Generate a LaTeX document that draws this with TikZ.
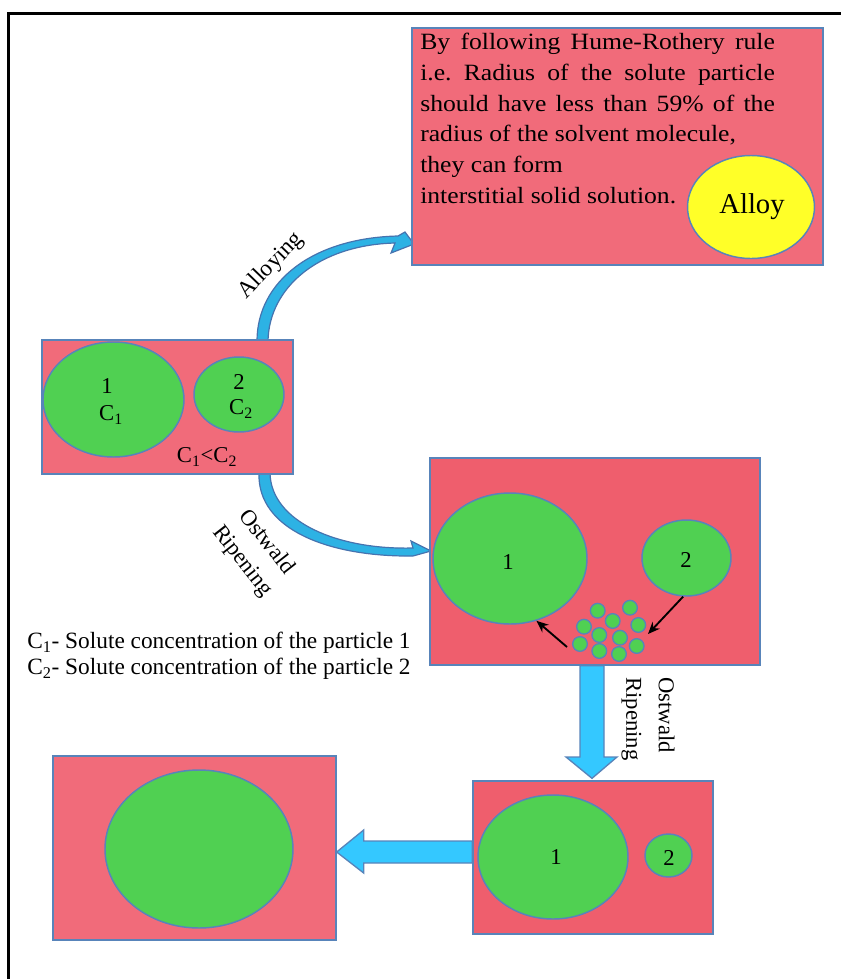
\documentclass[tikz,border=0pt]{standalone}
\usepackage{fontspec}
\setmainfont{Liberation Serif}
\newfontfamily\widefont[FakeStretch=1.1]{Liberation Serif}
\usetikzlibrary{shapes.geometric,arrows.meta,calc}
\pgfdeclarelayer{background}
\pgfsetlayers{background,main}
\definecolor{pinkA}{RGB}{241,107,122}
\definecolor{pinkB}{RGB}{239,94,109}
\definecolor{gfill}{RGB}{80,208,82}
\definecolor{edge}{RGB}{88,132,186}
\definecolor{edgeD}{RGB}{70,115,175}
\definecolor{yfill}{RGB}{255,255,40}
\definecolor{cyanA}{RGB}{45,178,228}
\definecolor{cyanB}{RGB}{52,200,255}
\frenchspacing
\begin{document}
\begin{tikzpicture}[x=0.75pt,y=-0.75pt,
  pbox/.style={rectangle,draw=edge,line width=1pt,fill=pinkA,inner sep=0},
  gell/.style={ellipse,draw=edge,line width=1.1pt,fill=gfill,inner sep=0},
  dot/.style={circle,draw=edge,line width=1pt,fill=gfill,inner sep=0,minimum size=11pt},
  lbl/.style={font=\fontsize{17}{23}\selectfont,inner sep=0},
  barrow/.style={draw=edge,line width=1pt,fill=cyanB},
  carrow/.style={draw=edgeD,line width=0.9pt,fill=cyanA},
  blk/.style={draw=black,line width=1.4pt,-{Stealth[length=9pt,width=7.5pt]}}]
\useasboundingbox (0,0) rectangle (840,979);

% frame
\draw[line width=2.25pt] (8,985) -- (8,13) -- (850,13);

% boxes
\node[pbox,minimum width=308.25pt,minimum height=177.75pt] (T) at (617.5,146.5) {};
\node[pbox,minimum width=188.25pt,minimum height=100.5pt] (B1) at (167.5,407) {};
\node[pbox,fill=pinkB,minimum width=247.5pt,minimum height=155.25pt] (B2) at (595,561.5) {};
\node[pbox,fill=pinkB,minimum width=180pt,minimum height=114.75pt] (B3) at (593,857.5) {};
\node[pbox,minimum width=212.25pt,minimum height=138pt] (B4) at (194.5,848) {};

% top box text
\node[anchor=north west,inner sep=0,align=left,font=\widefont\fontsize{17.5}{23}\selectfont] (ttext) at (420,33)
 {\makebox[266pt][s]{By following Hume-Rothery rule}\\
  \makebox[266pt][s]{i.e. Radius of the solute particle}\\
  \makebox[266pt][s]{should have less than 59\% of the}\\
  radius of the solvent molecule,\\
  they can form\\
  interstitial solid solution.};
\node[ellipse,draw=edge,line width=1.1pt,fill=yfill,inner sep=0,minimum width=95.25pt,minimum height=77.25pt] (AL) at (751,207) {};
\node[font=\fontsize{21.5}{25}\selectfont,inner sep=0] (ALt) at (752,207) {Alloy};

% box 1
\node[gell,minimum width=105.75pt,minimum height=86.25pt] (E11) at (113.5,399.5) {};
\node[gell,minimum width=67.5pt,minimum height=56.25pt] (E12) at (239,394.5) {};
\node[lbl] (l11) at (107,386) {1};
\node[lbl] (l11c) at (111,415) {C\textsubscript{1}};
\node[lbl] (l12) at (239,382) {2};
\node[lbl] (l12c) at (241,409) {C\textsubscript{2}};
\node[lbl] (cmp) at (207,457) {C\textsubscript{1}<C\textsubscript{2}};

% box 2
\node[gell,minimum width=115.5pt,minimum height=98.25pt] (E21) at (510,558.5) {};
\node[gell,minimum width=66.75pt,minimum height=57pt] (E22) at (686.5,558) {};
\node[lbl] (l21) at (508,562) {1};
\node[lbl] (l22) at (686,560) {2};
\foreach \p [count=\i] in {(597.7,610.7),(630,607.7),(612.7,621),(584,626.7),(638.3,625),(599.3,635),(620,637.7),(580,644),(599.3,651),(619,654),(636.7,646)}
  \node[dot] (s\i) at \p {};
\coordinate (ar1s) at (567,647);
\coordinate (ar2e) at (648,634);
\draw[blk] (ar1s) -- (E21.-67);
\draw[blk] (E22.-95) -- (ar2e);

% box 3
\node[gell,minimum width=112.5pt,minimum height=93pt] (E31) at (553,857) {};
\node[gell,minimum width=35.25pt,minimum height=32.25pt] (E32) at (668.5,855.5) {};
\node[lbl] (l31) at (556,857) {1};
\node[lbl] (l32) at (669,858) {2};

% box 4
\node[gell,minimum width=141pt,minimum height=118.5pt] (E41) at (199,849) {};

% legend
\node[anchor=north west,inner sep=0,align=left,font=\fontsize{17.5}{19.5}\selectfont] (leg) at (27,632)
 {C\textsubscript{1}- Solute concentration of the particle 1\\
  C\textsubscript{2}- Solute concentration of the particle 2};

% labels
\node[lbl,rotate=46,font=\fontsize{17.5}{23}\selectfont] (lab1) at (271,266) {Alloying};
\node[lbl,rotate=-52,align=center] (lab2) at (254,552) {Ostwald\\Ripening};
\node[lbl,rotate=-90,anchor=west,align=left,font=\fontsize{17}{24.5}\selectfont] (lab3) at (648,677) {Ostwald\\Ripening};

% arrows
\begin{pgfonlayer}{background}
% curved: B1 -> T
\draw[carrow] (257,341) .. controls (257,282) and (312,238) .. (398,236)
  -- (405,232) -- (414,244) -- (391,253) -- (395,243)
  .. controls (318,245) and (269,288) .. (268,341) -- cycle;
% curved: B1 -> B2
\draw[carrow] (259,473) .. controls (257,530) and (330,557) .. (413,556)
  -- (431,551) -- (411,541) -- (413,548)
  .. controls (338,550) and (271,522) .. (270,473) -- cycle;
% vertical block arrow B2 -> B3
\coordinate (vs) at ([xshift=-2.25pt]B2.south);
\coordinate (ve) at ($(B3.north)+(-1,-2)$);
\draw[barrow] ($(vs)+(-12,0)$) -- ($(ve |- 0,757)+(-12,0)$) -- ($(ve |- 0,757)+(-26,0)$) -- (ve)
  -- ($(ve |- 0,757)+(25,0)$) -- ($(ve |- 0,757)+(12,0)$) -- ($(vs)+(12,0)$) -- cycle;
% horizontal block arrow B3 -> B4
\coordinate (hs) at ($(B3.west)+(0,-5.5)$);
\coordinate (he) at (B4.east |- hs);
\draw[barrow] ($(hs)+(0,-11)$) -- ($(he)+(27,-11)$) -- ($(he)+(27,-22)$) -- (he)
  -- ($(he)+(27,21)$) -- ($(he)+(27,11)$) -- ($(hs)+(0,11)$) -- cycle;
\end{pgfonlayer}
\end{tikzpicture}
\end{document}
